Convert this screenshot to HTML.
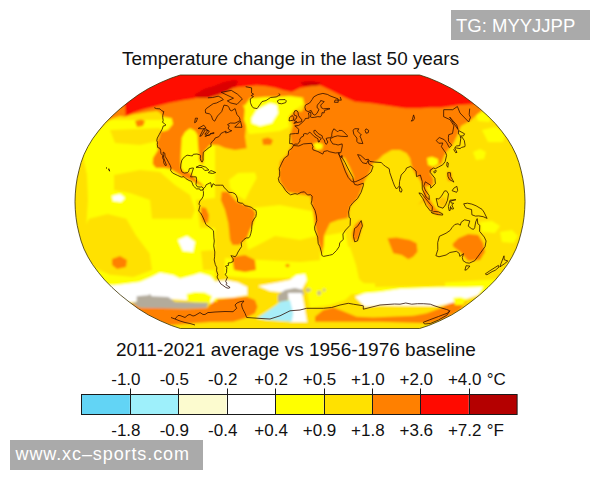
<!DOCTYPE html><html><head><meta charset="utf-8"><style>html,body{margin:0;padding:0;background:#fff}svg{display:block}text{font-family:"Liberation Sans",sans-serif}</style></head><body>
<svg width="600" height="480" viewBox="0 0 600 480">
<rect width="600" height="480" fill="#fff"/>
<defs><clipPath id="m"><path d="M419.7,75.0 428.7,78.0 439.8,82.7 451.5,88.5 461.7,94.8 470.9,101.6 479.7,108.6 487.9,116.0 495.3,123.5 501.6,131.1 507.4,138.9 512.1,146.7 516.0,154.6 518.9,162.5 521.0,170.3 522.8,178.2 524.0,186.0 524.7,193.9 525.0,201.8 524.7,209.6 524.0,217.5 522.8,225.3 521.0,233.2 518.9,241.0 516.0,248.9 512.1,256.8 507.4,264.6 501.6,272.4 495.3,280.0 487.9,287.5 479.7,294.9 470.9,301.9 461.7,308.7 451.5,315.0 439.8,320.8 428.7,325.5 419.7,328.5 180.3,328.5 171.3,325.5 160.2,320.8 148.5,315.0 138.3,308.7 129.1,301.9 120.3,294.9 112.1,287.5 104.7,280.0 98.4,272.4 92.6,264.6 87.9,256.8 84.0,248.9 81.1,241.0 79.0,233.2 77.2,225.3 76.0,217.5 75.3,209.6 75.0,201.8 75.3,193.9 76.0,186.0 77.2,178.2 79.0,170.3 81.1,162.5 84.0,154.6 87.9,146.7 92.6,138.9 98.4,131.1 104.7,123.5 112.1,116.0 120.3,108.6 129.1,101.6 138.3,94.8 148.5,88.5 160.2,82.7 171.3,78.0 180.3,75.0Z"/></clipPath><filter id="bl" x="-5%" y="-5%" width="110%" height="110%"><feGaussianBlur stdDeviation="0.9"/></filter><filter id="bl2"><feGaussianBlur stdDeviation="0.35"/></filter></defs>
<g clip-path="url(#m)"><g filter="url(#bl)">
<rect x="60" y="60" width="480" height="290" fill="#ffe100"/>
<path d="M70.0,120.0 215.0,120.0 215.0,285.0 70.0,285.0Z" fill="#ffff00"/>
<path d="M70.0,150.0 82.0,152.0 87.0,175.0 88.0,200.0 86.0,230.0 82.0,250.0 70.0,260.0Z" fill="#ffe100"/>
<path d="M89.0,218.7 107.7,214.0 126.3,218.7 135.7,235.0 149.7,253.7 152.0,270.0 133.3,277.0 110.0,274.7 89.0,265.3 82.0,246.7 84.3,228.0Z" fill="#ffe100"/>
<path d="M110.0,130.0 160.0,128.0 162.0,140.0 140.0,145.0 115.0,143.0Z" fill="#ffe100"/>
<path d="M114.0,175.0 140.0,170.0 160.0,172.0 175.0,185.0 190.0,195.0 195.0,210.0 191.7,218.7 152.0,218.7 150.0,200.0 130.0,193.0 114.0,190.0Z" fill="#ffe100"/>
<path d="M196.0,200.0 215.0,198.0 215.0,228.0 200.0,228.0Z" fill="#ffe100"/>
<path d="M201.0,251.0 215.0,250.0 215.0,270.0 203.0,270.0Z" fill="#ffe100"/>
<path d="M229.0,180.0 238.0,173.0 255.0,172.5 256.7,178.0 250.0,190.0 245.0,200.0 236.7,195.0 230.0,188.0Z" fill="#ffff00"/>
<path d="M251.7,208.0 280.0,205.0 316.0,212.0 320.0,235.0 300.0,240.0 275.0,236.0 258.0,245.0 248.0,250.0 244.0,230.0Z" fill="#ffff00"/>
<path d="M225.0,258.0 262.0,260.0 300.0,262.0 345.0,258.0 345.0,276.0 300.0,278.0 250.0,278.0 225.0,276.0Z" fill="#ffff00"/>
<path d="M318.0,237.0 345.0,232.0 350.0,255.0 330.0,262.0 320.0,250.0Z" fill="#ffff00"/>
<path d="M320.0,240.0 350.0,247.0 356.0,265.0 359.0,279.0 368.0,287.0 345.0,292.0 320.0,292.0Z" fill="#ffff00"/>
<path d="M350.0,283.0 420.0,284.0 470.0,281.0 500.0,279.0 500.0,294.0 350.0,294.0Z" fill="#ffff00"/>
<path d="M473.0,152.0 480.0,149.0 486.0,152.0 484.0,159.0 476.0,160.0Z" fill="#ffff00"/>
<path d="M482.0,130.0 495.0,127.0 506.0,132.0 503.0,142.0 488.0,142.0Z" fill="#ffff00"/>
<path d="M476.0,114.0 486.0,111.0 493.0,116.0 489.0,122.0 478.0,121.0Z" fill="#ffff00"/>
<path d="M305.0,262.0 330.0,260.0 355.0,266.0 356.0,290.0 345.0,300.0 330.0,305.0 310.0,308.0 307.0,290.0Z" fill="#ffff00"/>
<path d="M92.0,136.0 106.7,121.7 113.0,118.0 120.0,116.0 125.0,116.7 133.0,114.5 148.0,112.0 156.7,111.0 160.0,112.5 163.0,116.0 162.0,126.0 159.0,138.0 156.7,142.0 158.0,150.0 153.0,158.0 152.7,164.0 156.0,168.0 164.7,168.0 170.0,169.0 177.0,173.0 183.0,177.0 190.0,180.0 195.3,182.7 203.3,186.7 206.0,190.0 203.0,185.0 197.0,180.0 193.0,176.0 189.0,172.0 184.0,172.0 181.0,168.0 180.7,160.0 180.8,155.0 181.7,138.0 185.0,132.0 190.0,128.3 195.0,131.0 197.5,135.0 198.0,145.0 199.0,155.0 199.0,160.0 203.0,165.0 204.0,152.0 210.0,145.0 218.0,145.0 225.0,148.0 235.0,150.0 246.7,148.3 245.0,136.7 246.7,120.0 245.0,110.0 241.7,103.3 238.0,95.0 238.0,70.0 90.0,70.0Z" fill="#ff8000"/>
<path d="M163.0,116.7 171.7,118.3 173.0,124.0 168.0,130.0 161.7,131.7 160.0,125.0Z" fill="#ffff00"/>
<path d="M135.0,121.0 141.0,119.5 145.0,121.0 143.0,126.0 137.0,127.0Z" fill="#ff8000"/>
<path d="M221.7,191.7 228.0,191.7 236.7,201.7 245.0,205.0 253.3,209.0 255.8,213.3 253.3,223.3 250.0,230.0 247.0,238.0 239.0,245.0 232.5,245.0 230.0,240.0 228.3,223.3 225.0,210.0 220.8,200.0Z" fill="#ff8000"/>
<path d="M201.0,207.0 206.0,208.0 209.0,215.0 208.0,223.0 203.0,222.0 201.0,215.0Z" fill="#ff8000"/>
<path d="M232.0,257.0 245.0,255.0 255.0,260.0 256.0,270.0 245.0,272.0 234.0,270.0Z" fill="#ff8000"/>
<path d="M285.0,265.5 287.5,263.7 290.0,265.5 287.5,267.5Z" fill="#ff8000"/>
<path d="M112.0,259.0 120.0,256.0 127.0,260.0 126.0,267.0 117.0,269.0 112.0,265.0Z" fill="#ff8000"/>
<path d="M303.0,97.5 305.0,105.0 301.7,111.7 295.0,110.0 288.3,115.0 293.0,125.0 290.0,135.0 291.7,145.0 286.7,155.0 280.0,161.7 279.0,176.0 280.0,182.0 287.0,192.0 298.0,194.0 310.0,196.0 313.0,210.0 315.0,226.7 318.0,240.0 322.0,255.0 323.7,245.0 324.3,235.0 330.0,223.0 338.0,220.0 348.0,218.0 350.0,206.7 358.0,198.0 363.0,185.0 365.0,180.0 370.0,171.7 373.0,163.0 378.0,160.0 383.0,155.0 391.7,150.0 400.0,150.0 406.7,153.3 410.0,158.3 411.7,166.7 415.0,173.3 420.0,180.0 423.0,186.7 423.3,200.0 418.0,205.0 425.0,200.0 428.0,192.0 425.0,186.7 433.3,185.0 433.3,178.3 430.0,173.3 433.3,168.3 441.7,163.3 442.5,160.0 446.0,152.5 452.5,145.0 457.5,135.0 461.0,126.0 470.0,121.0 476.0,115.5 481.7,110.8 485.0,104.0 470.0,95.0 400.0,90.0 340.0,88.0Z" fill="#ff8000"/>
<path d="M427.0,158.0 432.0,156.7 438.0,159.0 438.3,164.0 433.0,166.7 428.0,165.0Z" fill="#ffff00"/>
<path d="M313.0,144.0 318.0,142.5 323.0,144.5 322.0,149.0 316.0,150.0Z" fill="#ffff00"/>
<path d="M342.5,157.5 344.5,157.5 350.0,168.0 354.0,178.0 353.0,180.0 348.0,171.0 343.0,161.0Z" fill="#ffe100"/>
<path d="M360.0,220.0 363.0,224.0 358.0,240.0 353.0,241.0 352.0,233.0 355.0,225.0Z" fill="#ff8000"/>
<path d="M387.5,238.3 396.7,237.5 410.0,240.0 416.7,243.3 417.5,251.7 413.3,256.7 408.3,259.2 401.7,255.0 393.3,253.3 390.0,245.0Z" fill="#ff8000"/>
<path d="M452.5,244.0 458.3,238.3 468.3,234.0 478.3,235.0 483.3,243.3 485.0,251.7 480.0,260.0 468.3,261.0 460.0,251.7 453.3,246.7Z" fill="#ff8000"/>
<path d="M425.0,190.0 430.0,200.0 435.0,208.0 441.7,214.0 438.0,215.5 431.7,211.7 425.0,201.7Z" fill="#ff8000"/>
<path d="M480.0,222.0 492.0,221.0 500.0,226.0 495.0,233.0 482.0,232.0Z" fill="#ffff00"/>
<path d="M500.0,232.0 512.0,230.0 518.0,236.0 514.0,243.0 502.0,242.0Z" fill="#ffff00"/>
<path d="M438.0,199.0 443.0,197.0 447.0,200.0 446.0,206.0 440.0,207.0Z" fill="#ffc400"/>
<path d="M447.0,172.0 451.0,172.0 452.0,181.0 448.0,181.0Z" fill="#ff8000"/>
<path d="M130.0,303.0 140.0,307.5 185.0,308.5 207.0,308.0 215.0,300.0 230.0,298.3 246.7,296.7 255.0,300.0 257.5,306.7 255.0,313.3 245.0,318.3 233.0,321.7 210.0,322.0 170.0,325.3 148.0,318.7 135.0,310.0Z" fill="#ff8000"/>
<path d="M200.0,290.0 217.0,290.0 217.0,301.7 200.0,301.7Z" fill="#ffff00"/>
<path d="M315.0,316.7 323.3,310.0 333.3,307.5 340.0,310.0 356.7,316.7 373.3,317.5 390.0,316.7 413.3,315.8 426.7,313.3 440.0,308.3 450.0,303.3 463.3,300.0 466.7,301.7 460.0,310.0 446.7,318.3 430.0,323.3 380.0,321.7 315.0,321.7Z" fill="#ff8000"/>
<path d="M238.0,70.0 345.0,70.0 340.0,95.0 303.0,97.5 290.0,95.8 276.7,96.7 265.0,96.7 250.0,98.0 245.0,105.0 238.0,105.0Z" fill="#ff8000"/>
<path d="M245.0,106.0 250.0,99.0 265.0,97.5 290.0,96.5 302.0,98.5 303.0,104.0 295.0,110.0 288.0,118.0 289.0,127.0 280.0,131.0 262.0,133.0 249.0,134.0 244.0,120.0Z" fill="#ffff00"/>
<path d="M251.7,118.3 256.7,110.0 270.0,103.3 276.7,105.0 278.0,113.0 271.7,123.0 260.0,126.0 251.7,123.0Z" fill="#ffffff"/>
<path d="M262.0,139.0 268.0,137.5 273.0,140.0 271.0,145.0 263.0,145.0Z" fill="#ff8000"/>
<path d="M112.0,196.0 120.0,194.0 125.0,198.0 121.0,202.0 113.0,201.0Z" fill="#ffffff"/>
<path d="M178.0,240.0 187.0,236.0 195.0,242.0 193.0,252.0 183.0,251.0Z" fill="#ffffff"/>
<path d="M105.0,285.3 115.0,285.3 126.7,283.7 140.0,282.0 151.7,277.0 160.0,272.8 173.3,275.3 180.0,278.7 193.3,275.3 200.0,273.0 210.0,276.0 215.0,281.5 226.5,280.3 238.0,282.6 247.0,287.0 247.0,295.0 232.0,297.5 215.0,298.0 212.0,303.0 185.0,300.0 150.0,298.0 135.0,302.0 120.0,302.0Z" fill="#ffffff"/>
<path d="M186.7,294.0 195.0,292.0 205.0,292.5 212.0,296.0 210.0,303.7 195.0,303.0 187.0,300.0Z" fill="#ffff00"/>
<path d="M258.0,286.0 277.5,282.5 290.0,280.0 296.7,275.0 305.0,274.0 306.7,280.0 301.7,290.0 290.0,293.3 270.0,291.0Z" fill="#ffffff"/>
<path d="M355.0,296.7 365.0,293.3 380.0,292.0 400.0,289.0 437.0,287.5 465.0,287.5 483.0,287.0 478.0,295.0 466.0,299.0 458.0,301.0 450.0,303.3 437.5,306.0 396.7,305.8 380.0,305.5 365.0,306.7Z" fill="#ffffff"/>
<path d="M375.0,278.0 445.0,280.0 445.0,286.0 375.0,287.0Z" fill="#ffe100"/>
<path d="M453.0,298.0 460.0,297.0 467.0,299.0 463.0,305.0 455.0,305.0Z" fill="#ffff00"/>
<path d="M136.7,296.2 148.3,295.3 150.0,294.0 151.7,296.2 168.3,297.0 175.0,302.0 208.3,302.8 206.7,307.8 185.0,308.7 140.0,307.8 131.7,302.8 136.7,302.0Z" fill="#b3ab9b"/>
<path d="M278.0,295.0 285.0,290.0 295.0,288.0 303.0,290.0 304.0,295.0 292.0,296.5 285.0,301.7 278.0,301.7Z" fill="#b3ab9b"/>
<path d="M305.0,290.0 308.0,287.5 311.7,290.0 308.0,292.5Z" fill="#c8b98c"/>
<path d="M316.7,293.0 319.0,290.0 321.7,293.0 319.0,296.0Z" fill="#c8b98c"/>
<path d="M322.5,290.0 324.0,288.0 326.0,290.0 324.0,292.0Z" fill="#c8b98c"/>
<path d="M288.0,293.0 302.0,293.0 307.0,322.0 290.0,322.0Z" fill="#ffffff"/>
<path d="M280.0,301.7 290.0,300.0 293.3,313.3 291.7,321.7 266.7,320.0 256.7,318.3 266.7,311.7 276.7,305.0Z" fill="#a8eef8"/>
<path d="M100.0,70.0 500.0,70.0 500.0,104.0 473.3,104.0 458.3,105.0 441.7,107.5 430.0,107.5 421.7,108.3 405.0,108.3 388.3,105.8 371.7,103.3 355.0,101.7 346.7,98.3 340.0,95.0 330.0,90.0 320.0,85.3 310.0,86.2 300.0,88.0 291.7,92.0 283.3,90.3 275.0,87.8 266.7,86.2 256.7,85.3 246.7,86.2 238.3,87.0 230.0,88.7 220.0,92.0 210.0,95.3 200.0,97.0 193.3,98.7 183.3,100.3 170.0,102.8 160.0,105.3 153.3,107.0 143.3,109.5 133.3,112.8 125.8,116.2 125.0,105.0 100.0,100.0Z" fill="#ff0a00"/>
<path d="M194,95 L204,89 L214,86 L224,82 L234,80 L238,81 L236,86 L228,91 L218,95 L208,98 L198,98Z" fill="#dc0000"/>
<path d="M300,82 L312,81 L322,83 L316,86 L304,86Z" fill="#d00000"/>
</g></g>
<path d="M198.0,128.5 203.8,125.2 206.1,128.2 202.4,128.8 198.0,128.5Z M199.8,136.3 203.2,129.6 205.3,129.9 201.5,135.8 199.8,136.3Z M204.8,134.2 207.9,130.4 205.9,129.6 209.3,131.1 207.1,134.2 204.8,134.2Z M204.9,136.3 210.4,134.6 209.1,135.0 204.9,136.3Z M210.1,133.8 213.9,133.5 213.9,132.5 210.1,133.8Z M194.6,122.7 195.4,118.2 197.6,118.2 196.1,122.0 194.6,122.7Z M108.8,168.7 109.5,171.1 109.8,171.1 108.7,169.5Z M106.2,167.8 107.0,168.3Z M203.5,188.4 205.4,186.8 206.1,184.8 210.6,182.6 211.1,184.5 211.6,187.3 213.0,183.7 215.4,185.2 217.9,185.2 220.4,185.2 222.9,185.2 224.1,187.6 225.3,188.4 227.1,190.7 228.9,192.3 232.6,192.6 235.1,193.9 236.3,195.5 237.5,198.9 237.5,201.8 240.0,203.0 242.5,203.3 245.0,205.7 248.2,206.3 251.3,207.3 253.8,209.3 256.0,210.4 256.4,213.5 255.8,216.7 254.0,219.0 252.3,222.2 251.8,226.1 251.7,229.3 250.9,233.2 249.9,236.3 248.7,237.9 246.3,237.9 243.9,239.5 241.2,242.6 241.6,246.5 240.0,248.9 238.0,252.0 236.7,254.9 235.2,256.8 232.7,256.0 230.9,255.7 233.2,258.8 233.2,261.5 230.5,262.7 228.2,263.0 228.5,265.4 225.5,266.1 227.2,268.2 226.7,268.5 226.6,272.4 225.1,274.7 227.5,277.0 226.2,280.0 225.7,281.5 227.0,283.5 225.8,284.5 227.9,286.0 230.1,287.5 228.3,288.3 225.9,287.5 222.9,285.3 220.7,283.8 218.6,280.0 217.0,277.0 217.9,274.7 216.6,270.8 216.8,267.7 215.3,264.6 214.2,259.9 214.6,256.8 214.8,252.0 213.7,245.8 214.3,241.0 213.9,237.9 213.5,230.8 211.2,228.5 205.9,224.5 204.4,220.6 202.3,215.9 200.5,212.8 198.7,211.2 199.5,207.3 200.1,205.7 198.9,204.1 200.0,200.5 201.5,199.4 203.2,196.2 203.5,193.9 203.4,191.5 202.9,190.4 203.5,188.4Z M293.5,145.5 298.8,146.0 303.5,143.9 311.7,143.3 313.0,146.7 312.4,148.3 313.1,149.9 317.9,151.5 322.8,154.1 323.8,151.5 327.4,150.7 329.8,151.8 335.3,153.0 338.8,152.7 339.0,154.6 342.6,164.0 345.5,171.9 348.2,177.4 351.5,181.3 353.7,182.1 354.7,184.5 357.8,185.1 363.3,183.2 363.4,185.4 361.1,192.3 357.5,198.6 353.1,202.5 350.0,206.5 348.6,212.0 349.1,217.5 350.4,218.3 350.1,225.3 345.6,230.0 342.9,234.0 343.3,239.5 339.8,242.6 339.2,246.5 336.5,250.5 332.6,254.4 329.6,255.2 323.6,256.4 321.9,255.5 321.4,252.0 319.9,246.7 318.2,243.4 317.7,237.1 314.8,230.0 314.6,226.9 316.8,220.6 316.4,215.9 315.0,210.4 311.2,203.3 311.9,200.2 312.2,196.2 310.6,194.7 307.5,195.0 304.4,191.8 301.2,192.3 297.5,194.2 295.0,193.6 290.6,194.8 288.1,193.1 285.7,190.7 283.2,186.8 281.4,184.5 279.2,182.1 278.3,178.6 279.6,175.8 279.7,171.9 279.2,168.7 281.7,163.2 284.3,158.2 288.2,155.4 288.7,150.7 292.0,148.3 293.5,145.5Z M361.2,220.6 362.4,226.1 361.0,229.3 357.5,240.9 354.7,241.8 353.5,236.3 354.5,228.5 357.5,226.4 361.2,220.6Z M358.3,143.1 362.9,143.6 360.9,138.1 359.9,136.1 361.4,135.0 357.5,131.1 358.8,128.8 354.9,128.7 353.0,130.2 353.8,134.2 356.9,138.1 356.8,141.3 358.3,143.1Z M293.8,123.3 296.8,122.6 301.5,121.7 301.8,119.4 300.3,118.2 298.4,115.2 298.0,112.3 297.0,110.7 294.9,110.7 293.8,113.0 294.3,115.2 296.9,116.1 296.5,118.4 295.0,119.3 294.4,120.9 296.8,121.5 293.8,123.3Z M293.6,120.2 293.7,117.5 292.4,115.5 289.5,117.5 289.0,120.9 293.6,120.2Z M277.3,100.9 279.4,99.7 285.1,99.6 286.3,100.9 285.7,102.6 281.7,103.8 278.4,103.3 277.3,100.9Z M454.9,148.5 457.0,152.4 455.6,152.7 453.8,149.6 454.9,148.5Z M454.7,147.7 456.4,146.0 459.8,145.6 460.8,138.1 460.0,136.7 461.9,137.0 464.3,140.5 465.1,145.2 464.9,146.6 461.7,147.4 460.0,148.6 456.6,148.0 454.7,147.7Z M460.8,136.1 458.4,133.9 458.5,130.5 464.6,133.8 463.5,135.8 460.8,136.1Z M458.1,129.6 456.7,125.0 449.6,117.0 452.9,122.0 458.1,129.6Z M418.9,192.9 421.7,193.6 425.6,198.6 430.6,204.6 432.4,206.8 432.1,210.9 430.4,211.0 426.2,205.7 423.1,198.9 418.9,192.9Z M431.2,212.4 435.1,211.5 438.4,211.8 442.7,213.9 442.6,215.1 438.3,214.6 432.7,213.4 431.2,212.4Z M436.2,198.6 438.0,206.5 443.0,208.2 445.5,204.9 447.5,200.2 448.5,193.9 446.5,190.9 444.6,190.9 441.1,196.7 438.7,198.9 436.2,198.6Z M448.4,206.5 449.1,210.6 450.2,210.4 450.5,206.5 451.7,209.1 453.6,208.8 451.8,204.9 453.7,203.3 451.2,203.0 450.6,201.0 455.9,199.7 450.0,200.2 448.4,206.5Z M463.7,203.8 467.5,203.2 471.8,204.1 476.1,205.8 482.0,209.3 483.9,212.0 487.1,218.4 483.2,216.7 478.7,215.9 475.5,216.1 471.9,214.8 471.6,209.6 466.1,208.0 464.9,206.2 463.7,203.8Z M447.7,172.7 450.4,172.7 450.7,176.6 453.9,182.1 452.5,181.3 449.4,179.4 448.0,176.6 447.7,172.7Z M452.1,190.7 456.6,192.3 457.7,190.3 456.8,186.3 453.8,188.2 452.1,190.7Z M446.7,165.6 447.1,162.1 448.4,163.2 447.8,167.3 446.7,165.6Z M399.4,189.2 399.8,186.3 402.1,190.0 401.3,192.2 399.8,191.5 399.4,189.2Z M433.5,171.9 435.8,170.2 436.4,170.9 434.9,173.1 433.5,171.9Z M439.4,236.3 437.7,242.6 437.8,249.7 435.9,255.7 439.0,256.8 446.1,255.0 449.9,252.5 456.4,251.3 459.2,253.3 459.8,256.4 463.6,253.6 462.3,257.5 463.1,260.7 466.2,262.7 469.2,263.2 474.8,260.7 479.1,254.9 485.1,246.5 486.1,241.0 484.3,237.1 479.6,231.3 479.8,225.3 477.8,223.8 477.2,218.6 475.7,221.9 474.7,227.7 473.6,229.3 471.8,228.9 468.2,226.1 469.8,220.9 464.6,219.8 461.2,222.2 460.3,225.2 458.0,223.8 454.8,224.5 451.9,227.7 450.2,230.4 446.1,233.2 439.4,236.3Z M466.1,265.7 469.9,266.1 466.8,269.7 464.9,270.2 466.1,265.7Z M504.0,255.8 504.2,259.7 507.8,261.0 504.4,263.8 499.9,266.9 500.9,263.8 504.0,255.8Z M498.4,265.4 498.9,267.2 495.2,270.3 492.1,271.6 486.9,274.8 485.3,273.9 489.8,270.8 498.4,265.4Z M196.0,167.3 199.9,165.3 205.8,167.2 208.9,170.0 204.8,170.5 202.1,167.5 196.0,167.3Z M208.3,172.7 211.0,170.5 215.7,172.5 212.6,173.5 208.3,172.7Z M234.7,127.2 240.5,121.1 242.0,127.3 234.7,127.2Z M231.3,90.4 237.5,94.2 242.4,98.9 237.0,104.4 230.9,103.0 227.3,100.9 233.5,98.2 221.2,92.3 231.3,90.4Z M207.9,97.8 212.7,97.5 218.2,96.2 221.0,97.5 223.4,99.6 219.3,101.6 216.5,103.0 213.2,103.7 206.2,108.6 205.3,110.1 205.6,113.0 209.4,113.8 211.4,115.7 212.7,119.7 214.7,121.2 217.5,116.0 221.7,111.6 224.0,105.1 227.6,105.8 228.8,107.2 230.0,110.1 231.7,110.8 235.1,108.6 236.0,111.6 236.9,114.5 239.5,117.5 240.2,120.5 235.0,123.2 230.2,123.0 227.5,124.7 229.3,125.8 228.1,128.1 229.7,130.1 231.8,130.7 228.0,132.4 225.6,133.0 226.1,131.1 223.5,132.2 220.9,133.5 219.6,135.8 218.8,136.7 215.0,138.1 214.1,140.0 212.4,141.3 210.9,143.6 211.1,146.4 209.1,147.5 206.2,149.9 203.3,152.2 203.0,157.0 203.1,160.1 202.1,162.1 201.1,161.0 200.3,158.5 200.5,155.4 199.2,154.6 196.9,154.0 193.3,154.3 192.4,155.9 190.6,155.7 187.1,155.2 184.3,157.0 181.9,160.1 180.9,164.0 180.6,168.0 181.9,171.9 184.3,173.1 187.4,172.7 188.8,171.1 189.3,168.7 192.3,168.0 193.5,168.0 192.5,171.1 191.5,174.2 190.6,176.9 193.7,176.8 196.2,176.9 196.6,179.7 196.0,184.5 197.3,186.8 200.4,187.1 201.7,186.8 203.5,188.4 202.5,190.0 200.3,190.3 199.7,188.9 196.6,188.9 193.4,186.0 191.5,181.3 189.1,180.5 186.1,178.8 183.9,176.6 181.3,177.1 177.8,175.5 172.6,173.0 170.5,170.3 171.1,168.0 170.2,165.3 168.6,162.5 167.4,160.1 165.0,156.2 164.8,153.2 163.2,152.1 163.2,154.6 163.8,158.1 164.9,161.2 166.0,164.0 166.4,165.3 165.3,165.6 163.7,162.8 163.7,160.1 162.5,157.7 162.7,155.4 161.1,153.8 160.7,151.8 160.7,150.5 159.9,148.3 157.7,147.5 157.3,144.4 157.5,142.4 156.8,140.5 157.3,138.1 159.4,134.2 162.1,129.3 163.3,125.9 165.3,125.6 165.9,125.0 164.4,123.5 162.5,122.3 163.2,120.5 162.7,117.5 162.8,115.2 163.8,111.6 161.9,110.8 160.0,108.9 156.3,108.6 154.3,107.7 M293.4,145.2 292.4,143.6 289.6,143.6 289.9,137.4 290.0,134.1 295.5,133.5 298.3,133.6 298.7,129.6 297.2,127.6 294.8,125.9 298.4,125.5 300.5,124.2 301.7,122.7 303.2,121.7 304.8,119.7 305.3,118.5 309.0,118.1 308.9,115.2 308.4,113.0 310.7,112.0 310.9,114.9 310.5,117.0 311.6,117.5 314.7,117.3 317.8,116.6 320.4,116.9 321.8,114.9 322.0,112.6 324.1,113.0 324.5,110.4 328.1,109.4 330.0,108.8 328.9,108.4 323.5,108.8 321.3,107.7 320.7,105.1 324.2,101.6 320.7,100.5 320.0,102.3 318.3,103.7 317.1,105.8 317.2,107.9 319.0,109.4 317.0,113.3 314.9,115.2 312.9,114.1 311.1,110.4 308.1,111.6 305.7,110.4 304.9,107.2 305.4,105.1 309.6,103.0 312.1,99.6 313.7,96.9 317.9,94.6 322.9,93.4 327.7,94.5 329.9,95.8 338.1,98.9 338.2,102.3 334.4,102.3 335.1,100.0 341.3,100.2 340.2,96.9 M469.7,108.6 469.2,114.5 470.4,117.5 468.7,122.0 460.0,113.0 457.4,106.5 452.7,109.7 443.7,109.7 443.6,116.7 450.1,119.7 453.9,125.8 452.5,133.5 448.7,134.7 448.4,137.4 448.5,141.3 451.8,145.2 449.3,147.5 446.8,142.8 444.3,139.7 439.3,137.5 436.2,140.5 438.8,143.3 442.8,143.0 441.4,146.7 445.8,153.0 446.6,155.4 445.1,161.7 442.7,164.8 438.8,166.9 435.4,168.7 433.4,168.0 430.1,170.3 430.2,172.4 434.9,178.2 435.4,183.7 430.8,188.2 430.6,185.2 425.3,181.8 423.8,186.0 425.2,190.0 429.1,195.5 429.3,199.7 426.1,197.0 422.3,189.2 422.2,181.3 420.3,175.0 416.5,176.6 416.1,171.1 412.6,168.0 410.6,166.4 406.5,168.0 405.6,170.3 401.2,175.0 399.6,181.3 399.3,186.0 396.5,189.0 394.6,186.0 392.8,181.3 389.8,172.7 389.2,168.7 385.5,166.4 383.5,164.8 381.2,162.5 374.8,162.1 369.8,161.4 368.4,159.3 365.4,159.6 360.7,155.4 357.6,154.6 360.6,160.1 362.7,162.8 366.4,163.7 368.2,160.4 368.8,164.0 373.1,166.4 371.1,172.0 367.8,175.0 364.3,177.4 360.1,179.7 355.8,181.6 353.7,181.8 352.8,177.4 347.7,168.0 345.0,162.5 342.2,157.7 341.9,155.4 341.4,157.7 339.0,154.8 338.8,152.7 340.8,152.6 341.5,149.9 342.3,146.0 342.1,143.9 338.1,145.0 335.7,144.4 332.7,143.9 330.3,140.0 330.5,138.4 333.1,137.4 333.2,137.0 337.6,135.8 341.1,136.3 347.4,136.6 347.5,135.8 343.8,131.9 341.9,130.5 339.1,130.4 337.6,131.9 336.3,130.5 333.8,128.8 332.2,131.9 331.7,134.9 332.0,136.6 329.8,137.7 327.0,138.1 326.0,138.6 327.9,142.0 326.3,144.4 325.1,142.8 324.2,139.7 322.4,138.1 322.2,135.8 318.1,133.5 315.2,130.1 313.8,130.7 314.1,132.7 315.9,135.0 318.3,136.6 321.3,138.6 319.7,140.5 319.2,142.0 318.3,142.0 318.0,138.9 316.3,137.7 314.3,136.6 311.9,134.2 309.8,132.1 307.4,134.1 305.1,133.5 303.4,134.2 303.6,136.0 300.9,137.4 299.7,139.7 300.0,140.9 299.0,142.7 297.4,144.1 294.9,144.1 293.4,145.2 M278.7,93.6 280.2,94.8 276.2,96.9 270.6,97.5 266.1,100.5 262.0,101.6 257.1,108.6 253.3,107.9 251.9,106.1 250.8,103.7 250.4,102.3 250.3,98.9 253.5,96.6 251.2,95.5 253.6,94.2 251.5,92.9 251.6,91.0 251.6,87.9 245.7,86.7 M411.2,121.1 412.3,119.7 413.6,114.9 414.6,118.2 413.3,120.5 411.2,121.1Z M365.1,130.4 366.0,128.8 368.7,130.4 368.2,132.7 366.0,133.2 365.1,130.4Z M171.0,317.5 175.0,319.0 178.0,315.5 180.0,315.5 185.0,317.5 188.0,315.0 190.0,314.5 193.0,316.0 195.0,315.5 200.0,312.5 203.0,314.5 205.0,314.5 208.0,312.5 210.0,312.5 215.0,312.0 225.0,311.5 233.0,311.7 236.7,308.3 235.0,305.0 237.0,303.0 240.0,301.7 244.0,301.0 241.5,304.0 242.0,307.0 243.0,309.5 245.0,313.3 246.7,317.5 258.0,318.3 270.0,319.0 280.0,315.8 290.0,310.8 300.0,310.0 306.7,308.3 323.3,308.3 331.7,307.5 340.0,305.0 348.3,303.3 353.3,304.2 363.3,305.8 363.3,309.2 370.0,307.5 380.0,305.0 394.5,304.0 400.0,304.2 405.8,303.0 411.7,304.2 417.5,303.7 423.3,303.7 430.3,304.2 435.0,306.0 440.8,307.8 446.7,309.5 449.6,310.7 447.8,313.0 438.5,316.5 429.2,320.0 423.3,322.3 424.5,324.0 430.3,323.5 438.5,320.0 446.7,315.3 450.0,310.7 M175.0,319.0 180.0,321.0 185.0,322.5 190.0,323.5 195.0,325.0" fill="none" stroke="#2a0a00" stroke-opacity="0.78" stroke-width="1.0" stroke-linejoin="round"/>
<path d="M419.7,75.0 428.7,78.0 439.8,82.7 451.5,88.5 461.7,94.8 470.9,101.6 479.7,108.6 487.9,116.0 495.3,123.5 501.6,131.1 507.4,138.9 512.1,146.7 516.0,154.6 518.9,162.5 521.0,170.3 522.8,178.2 524.0,186.0 524.7,193.9 525.0,201.8 524.7,209.6 524.0,217.5 522.8,225.3 521.0,233.2 518.9,241.0 516.0,248.9 512.1,256.8 507.4,264.6 501.6,272.4 495.3,280.0 487.9,287.5 479.7,294.9 470.9,301.9 461.7,308.7 451.5,315.0 439.8,320.8 428.7,325.5 419.7,328.5 180.3,328.5 171.3,325.5 160.2,320.8 148.5,315.0 138.3,308.7 129.1,301.9 120.3,294.9 112.1,287.5 104.7,280.0 98.4,272.4 92.6,264.6 87.9,256.8 84.0,248.9 81.1,241.0 79.0,233.2 77.2,225.3 76.0,217.5 75.3,209.6 75.0,201.8 75.3,193.9 76.0,186.0 77.2,178.2 79.0,170.3 81.1,162.5 84.0,154.6 87.9,146.7 92.6,138.9 98.4,131.1 104.7,123.5 112.1,116.0 120.3,108.6 129.1,101.6 138.3,94.8 148.5,88.5 160.2,82.7 171.3,78.0 180.3,75.0Z" fill="none" stroke="#3a3000" stroke-width="0.8"/>
<text x="122" y="65.2" font-size="18.9" fill="#111">Temperature change in the last 50 years</text>
<text x="116" y="356" font-size="19" fill="#111">2011-2021 average vs 1956-1976 baseline</text>
<rect x="81.50" y="394.5" width="48.40" height="20" fill="#62d4f5"/>
<rect x="129.90" y="394.5" width="48.40" height="20" fill="#9ef0fb"/>
<rect x="178.30" y="394.5" width="48.40" height="20" fill="#fcfbcf"/>
<rect x="226.70" y="394.5" width="48.40" height="20" fill="#ffffff"/>
<rect x="275.10" y="394.5" width="48.40" height="20" fill="#ffff00"/>
<rect x="323.50" y="394.5" width="48.40" height="20" fill="#ffe100"/>
<rect x="371.90" y="394.5" width="48.40" height="20" fill="#ff8000"/>
<rect x="420.30" y="394.5" width="48.40" height="20" fill="#ff0a00"/>
<rect x="468.70" y="394.5" width="48.40" height="20" fill="#b40000"/>
<rect x="81.5" y="394.5" width="435.60" height="20" fill="none" stroke="#1a1a1a" stroke-width="1"/>
<line x1="130.50" y1="388.5" x2="130.50" y2="414" stroke="#1a1a1a" stroke-width="1"/>
<line x1="178.50" y1="388.5" x2="178.50" y2="414" stroke="#1a1a1a" stroke-width="1"/>
<line x1="227.50" y1="388.5" x2="227.50" y2="414" stroke="#1a1a1a" stroke-width="1"/>
<line x1="275.50" y1="388.5" x2="275.50" y2="414" stroke="#1a1a1a" stroke-width="1"/>
<line x1="324.50" y1="388.5" x2="324.50" y2="414" stroke="#1a1a1a" stroke-width="1"/>
<line x1="372.50" y1="388.5" x2="372.50" y2="414" stroke="#1a1a1a" stroke-width="1"/>
<line x1="420.50" y1="388.5" x2="420.50" y2="414" stroke="#1a1a1a" stroke-width="1"/>
<line x1="469.50" y1="388.5" x2="469.50" y2="414" stroke="#1a1a1a" stroke-width="1"/>
<text x="125.9" y="385" font-size="17" text-anchor="middle" fill="#111">-1.0</text>
<text x="125.9" y="436" font-size="17" text-anchor="middle" fill="#111">-1.8</text>
<text x="174.3" y="385" font-size="17" text-anchor="middle" fill="#111">-0.5</text>
<text x="174.3" y="436" font-size="17" text-anchor="middle" fill="#111">-0.9</text>
<text x="222.7" y="385" font-size="17" text-anchor="middle" fill="#111">-0.2</text>
<text x="222.7" y="436" font-size="17" text-anchor="middle" fill="#111">-0.4</text>
<text x="271.1" y="385" font-size="17" text-anchor="middle" fill="#111">+0.2</text>
<text x="271.1" y="436" font-size="17" text-anchor="middle" fill="#111">+0.4</text>
<text x="319.5" y="385" font-size="17" text-anchor="middle" fill="#111">+0.5</text>
<text x="319.5" y="436" font-size="17" text-anchor="middle" fill="#111">+0.9</text>
<text x="367.9" y="385" font-size="17" text-anchor="middle" fill="#111">+1.0</text>
<text x="367.9" y="436" font-size="17" text-anchor="middle" fill="#111">+1.8</text>
<text x="416.3" y="385" font-size="17" text-anchor="middle" fill="#111">+2.0</text>
<text x="416.3" y="436" font-size="17" text-anchor="middle" fill="#111">+3.6</text>
<text x="464.7" y="385" font-size="17" text-anchor="middle" fill="#111">+4.0</text>
<text x="464.7" y="436" font-size="17" text-anchor="middle" fill="#111">+7.2</text>
<text x="486.7" y="385" font-size="17" fill="#111">°C</text>
<text x="486.7" y="436" font-size="17" fill="#111">°F</text>
<rect x="451" y="10" width="139" height="30" fill="#aaaaaa"/>
<text x="456" y="32" font-size="18.5" fill="#fff">TG: MYYJJPP</text>
<rect x="10" y="440" width="193" height="30" fill="#aaaaaa"/>
<text x="15.5" y="460" font-size="18" letter-spacing="0.9" fill="#fff">www.xc–sports.com</text>
</svg></body></html>
